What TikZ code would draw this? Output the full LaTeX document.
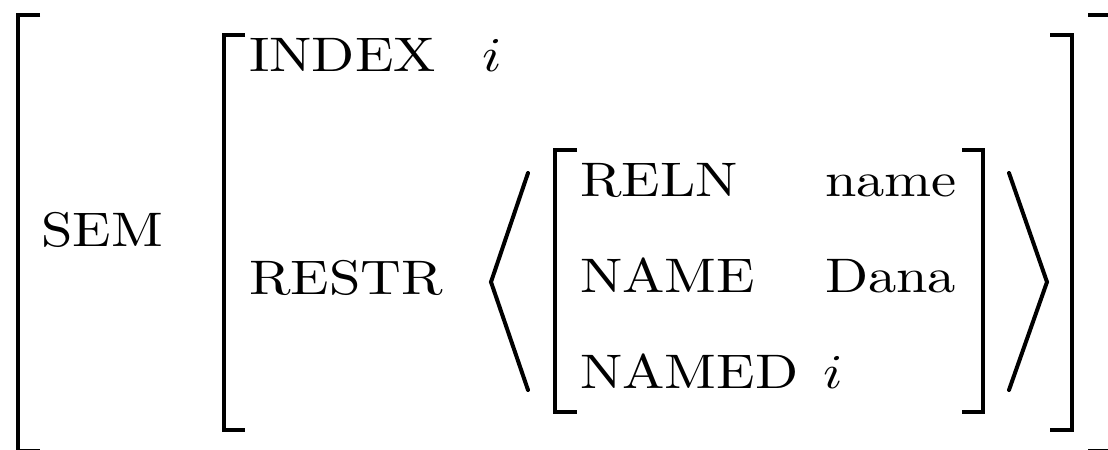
\documentclass[tikz,border=0pt]{standalone}
\tikzset{
  feat/.style={inner sep=0pt, anchor=base west, xscale=1.13, yscale=0.97},
  brack/.style={line width=0.9pt, line join=miter},
  angl/.style={line width=0.8pt, line cap=round, line join=miter}
}
\begin{document}
\begin{tikzpicture}[x=0.2pt,y=-0.2pt]
\useasboundingbox (0,0) rectangle (1108,450);
\clip (0,0) rectangle (1108,450);
% outer matrix
\draw[brack] (40,15) -- (18,15) -- (18,451) -- (40,451);
\draw[brack] (1088,15) -- (1111,15) -- (1111,451) -- (1088,451);
\node[feat] (sem) at (40,247) {SEM};
% SEM value
\draw[brack] (245,35) -- (224,35) -- (224,430) -- (245,430);
\draw[brack] (1050,35) -- (1072,35) -- (1072,430) -- (1050,430);
\node[feat] (index) at (248,72) {INDEX};
\node[feat] (indexval) at (481,72) {$i$};
\node[feat] (restr) at (248,295) {RESTR};
% list
\draw[angl] (528,173) -- (491,282) -- (528,390);
\draw[angl] (1009,173) -- (1047,282) -- (1009,390);
\draw[brack] (577,150) -- (555,150) -- (555,412) -- (577,412);
\draw[brack] (962,150) -- (983,150) -- (983,412) -- (962,412);
\node[feat] (reln) at (579,197) {RELN};
\node[feat] (relnval) at (824,197) {name};
\node[feat] (name) at (579,293) {NAME};
\node[feat] (nameval) at (824,293) {Dana};
\node[feat] (named) at (579,389) {NAMED};
\node[feat] (namedval) at (822,389) {$i$};
\end{tikzpicture}
\end{document}
